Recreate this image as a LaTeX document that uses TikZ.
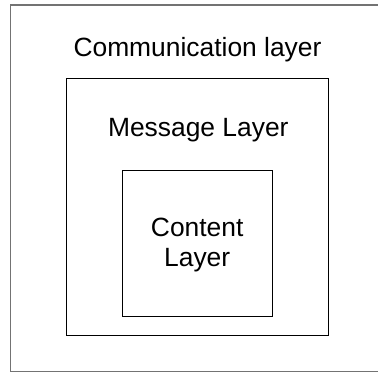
\documentclass[tikz,border=0pt]{standalone}
\usepackage{fontspec}
\setmainfont{Liberation Sans}
\begin{document}
\begin{tikzpicture}[x=1pt,y=-1pt,
  layerbox/.style={draw=black, line width=1pt, fill=none},
  outerbox/.style={draw=black!55, line width=1.6pt},
  layertext/.style={inner sep=0pt, anchor=base, font=\fontsize{26.4}{30}\selectfont}]
  \useasboundingbox (0,0) rectangle (378,373);
  % outermost layer (runs off the right side)
  \draw[outerbox] (390,4.8) -- (10.5,4.8) -- (10.5,371.5) -- (390,371.5);
  \node[layertext] (comm) at (197.5,56.7) {Communication layer};
  % middle layer
  \node[layerbox, minimum width=262pt, minimum height=257pt, inner sep=0pt] (msgbox) at (197.6,206.7) {};
  \node[layertext] (msg) at (198.3,136.7) {Message Layer};
  % innermost layer; base anchor sits on the last line
  \node[layerbox, minimum width=150pt, minimum height=146.7pt, inner sep=0pt] (contbox) at (197.7,243.4) {};
  \node[layertext, align=center] (cont) at (197.2,266.7) {Content\\Layer};
\end{tikzpicture}
\end{document}
